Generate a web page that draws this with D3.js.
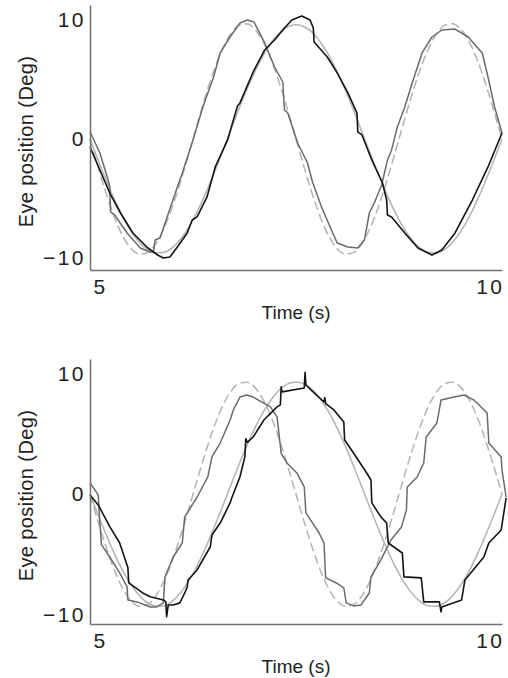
<!DOCTYPE html>
<html lang="en">
<head>
    <meta charset="UTF-8">
    <title>Eye position vs time</title>
    <script src="https://d3js.org/d3.v7.min.js"></script>
    <style>
        body { margin: 0; background: #fff; }
        svg { display: block; font-family: "Liberation Sans", Arial, sans-serif; }
        .tick text { font-size: 21px; fill: #222; letter-spacing: 2.5px; }
        .title { font-size: 19px; fill: #222; }
    </style>
</head>
<body>
<div id="chart"></div>
<script>
// sample times for the two target sinusoids (s)
const timeGrid = [5.0, 5.1, 5.2, 5.3, 5.4, 5.5, 5.6, 5.7, 5.8, 5.9,
    6.0, 6.1, 6.2, 6.3, 6.4, 6.5, 6.6, 6.7, 6.8, 6.9,
    7.0, 7.1, 7.2, 7.3, 7.4, 7.5, 7.6, 7.7, 7.8, 7.9,
    8.0, 8.1, 8.2, 8.3, 8.4, 8.5, 8.6, 8.7, 8.8, 8.9,
    9.0, 9.1, 9.2, 9.3, 9.4, 9.5, 9.6, 9.7, 9.8, 9.9, 10.0];

const xTicks = [5, 10];
const yTicks = [-10, 0, 10];

// top panel: slow target (solid), fast target (dashed)
const topTargetSlow = [0, -1.80, -3.53, -5.14, -6.57, -7.77, -8.69, -9.30, -9.58, -9.52,
    -9.13, -8.41, -7.40, -6.12, -4.63, -2.97, -1.20, 0.60, 2.39, 4.09,
    5.64, 7.00, 8.11, 8.93, 9.43, 9.60, 9.43, 8.93, 8.11, 7.00,
    5.64, 4.09, 2.39, 0.60, -1.20, -2.97, -4.63, -6.12, -7.40, -8.41,
    -9.13, -9.52, -9.58, -9.30, -8.69, -7.77, -6.57, -5.14, -3.53, -1.80, 0];
const topTargetFast = [0, -2.41, -4.67, -6.64, -8.19, -9.23, -9.68, -9.53, -8.78, -7.47,
    -5.70, -3.57, -1.22, 1.22, 3.57, 5.70, 7.47, 8.78, 9.53, 9.68,
    9.23, 8.19, 6.64, 4.67, 2.41, 0, -2.41, -4.67, -6.64, -8.19,
    -9.23, -9.68, -9.53, -8.78, -7.47, -5.70, -3.57, -1.22, 1.22, 3.57,
    5.70, 7.47, 8.78, 9.53, 9.68, 9.23, 8.19, 6.64, 4.67, 2.41, 0];

// top panel eye traces [time, deg]
const topEyeSlow = [[5.00,-0.67],[5.12,-2.61],[5.24,-4.54],[5.37,-6.22],[5.52,-7.90],[5.69,-9.08],
    [5.82,-9.75],[5.89,-10.0],[5.97,-9.92],[6.06,-9.08],[6.18,-7.90],[6.24,-6.81],[6.30,-6.55],
    [6.42,-4.87],[6.52,-2.35],[6.67,-0.08],[6.74,1.60],[6.79,2.77],[6.82,3.03],[6.98,5.63],
    [7.12,7.48],[7.24,8.32],[7.36,9.33],[7.45,10.0],[7.57,10.34],[7.67,10.0],[7.71,9.33],
    [7.72,8.15],[7.88,6.89],[8.00,5.55],[8.13,3.87],[8.24,2.18],[8.25,0.59],[8.30,0.34],
    [8.42,-1.76],[8.55,-3.70],[8.60,-5.13],[8.61,-6.39],[8.66,-6.55],[8.82,-7.90],[8.98,-9.16],
    [9.15,-9.75],[9.27,-9.33],[9.43,-7.90],[9.64,-5.13],[9.83,-2.35],[10.0,0.50]];
const topEyeFast = [[5.00,0.61],[5.12,-1.18],[5.22,-3.45],[5.24,-4.03],[5.25,-6.13],[5.30,-6.39],
    [5.45,-7.90],[5.61,-9.16],[5.73,-9.50],[5.77,-9.50],[5.79,-8.49],[5.85,-8.32],[6.06,-4.03],
    [6.12,-2.86],[6.25,-0.08],[6.37,2.69],[6.50,5.21],[6.58,7.23],[6.70,8.57],[6.82,9.75],
    [6.91,10.0],[6.99,9.83],[7.12,8.07],[7.24,6.05],[7.34,4.79],[7.36,2.44],[7.40,2.18],
    [7.52,-0.34],[7.64,-2.02],[7.70,-3.61],[7.81,-5.71],[7.93,-7.65],[8.00,-8.74],[8.13,-9.08],
    [8.25,-9.16],[8.33,-8.49],[8.39,-6.22],[8.45,-5.38],[8.54,-3.87],[8.61,-1.76],[8.66,-0.92],
    [8.73,1.01],[8.82,2.69],[8.91,4.71],[9.03,7.23],[9.15,8.57],[9.27,9.16],[9.43,9.24],
    [9.59,8.57],[9.76,7.23],[9.83,5.21],[9.91,2.69],[10.0,0.50]];

// bottom panel targets
const bottomTargetSlow = [0, -1.74, -3.42, -4.98, -6.37, -7.52, -8.41, -9.01, -9.28, -9.23,
    -8.85, -8.15, -7.17, -5.93, -4.48, -2.87, -1.17, 0.58, 2.31, 3.96,
    5.47, 6.78, 7.85, 8.65, 9.14, 9.30, 9.14, 8.65, 7.85, 6.78,
    5.47, 3.96, 2.31, 0.58, -1.17, -2.87, -4.48, -5.93, -7.17, -8.15,
    -8.85, -9.23, -9.28, -9.01, -8.41, -7.52, -6.37, -4.98, -3.42, -1.74, 0];
const bottomTargetFast = [0, -2.31, -4.48, -6.37, -7.85, -8.85, -9.28, -9.14, -8.41, -7.17,
    -5.47, -3.42, -1.17, 1.17, 3.42, 5.47, 7.17, 8.41, 9.14, 9.28,
    8.85, 7.85, 6.37, 4.48, 2.31, 0, -2.31, -4.48, -6.37, -7.85,
    -8.85, -9.28, -9.14, -8.41, -7.17, -5.47, -3.42, -1.17, 1.17, 3.42,
    5.47, 7.17, 8.41, 9.14, 9.28, 8.85, 7.85, 6.37, 4.48, 2.31, 0];

// bottom panel eye traces
const bottomEyeSlow = [[5.00,-0.06],[5.10,-0.89],[5.24,-2.69],[5.36,-4.04],[5.46,-6.10],[5.47,-7.35],
    [5.64,-8.18],[5.73,-8.49],[5.89,-8.76],[5.92,-8.90],[5.93,-10.14],[5.95,-9.17],[6.01,-9.17],
    [6.09,-9.00],[6.15,-8.18],[6.18,-7.68],[6.19,-7.10],[6.30,-6.27],[6.46,-4.35],[6.48,-3.38],
    [6.58,-2.39],[6.70,-0.72],[6.72,-0.31],[6.82,1.45],[6.88,3.11],[6.89,4.60],[6.91,4.30],
    [6.98,4.74],[7.11,6.15],[7.27,7.23],[7.31,7.40],[7.32,8.89],[7.33,8.48],[7.60,8.80],
    [7.61,10.1],[7.62,9.05],[7.72,8.39],[7.84,7.64],[7.85,8.00],[7.86,7.50],[7.96,6.98],
    [8.08,5.98],[8.09,4.49],[8.20,3.39],[8.36,1.74],[8.41,1.18],[8.42,-0.72],[8.53,-1.88],
    [8.60,-2.38],[8.62,-4.04],[8.79,-4.87],[8.81,-6.85],[9.02,-6.93],[9.05,-8.92],[9.24,-8.92],
    [9.26,-9.75],[9.27,-9.34],[9.51,-8.76],[9.55,-7.10],[9.78,-5.20],[9.84,-4.04],[9.99,-2.96],
    [10.05,-0.31]];
const bottomEyeFast = [[5.00,0.93],[5.10,-0.06],[5.12,-2.38],[5.14,-4.20],[5.24,-5.20],[5.36,-6.52],
    [5.45,-7.68],[5.46,-8.76],[5.57,-8.92],[5.73,-9.34],[5.81,-9.34],[5.89,-9.00],[5.91,-6.85],
    [6.01,-5.20],[6.12,-4.04],[6.15,-1.88],[6.30,-0.23],[6.43,1.43],[6.48,3.09],[6.58,4.24],
    [6.70,6.15],[6.74,6.98],[6.82,8.05],[6.90,8.22],[6.98,8.05],[7.19,7.23],[7.27,6.40],
    [7.32,3.39],[7.39,2.59],[7.51,1.76],[7.60,0.60],[7.62,-1.55],[7.70,-2.38],[7.78,-3.21],
    [7.84,-4.04],[7.86,-6.93],[7.99,-7.35],[8.08,-7.76],[8.11,-9.00],[8.20,-9.25],[8.29,-9.17],
    [8.39,-8.18],[8.41,-6.85],[8.53,-5.44],[8.65,-3.81],[8.78,-2.71],[8.84,-1.30],[8.85,0.60],
    [8.97,1.43],[9.05,2.59],[9.08,4.74],[9.21,5.90],[9.26,7.80],[9.42,8.05],[9.54,8.22],
    [9.66,7.80],[9.82,6.73],[9.84,4.24],[9.99,3.09],[10.0,2.01],[10.05,-0.23]];

const width = 508, height = 678;

const panels = [
    {top: 5, bottom: 270, yDomain: [-11.01, 11.26],
     slow: topTargetSlow, fast: topTargetFast, eyeSlow: topEyeSlow, eyeFast: topEyeFast},
    {top: 359, bottom: 624, yDomain: [-10.75, 11.2],
     slow: bottomTargetSlow, fast: bottomTargetFast, eyeSlow: bottomEyeSlow, eyeFast: bottomEyeFast}
];

const svg = d3.select("#chart")
  .append("svg")
    .attr("width", width)
    .attr("height", height);

const x = d3.scaleLinear()
    .domain([5, 10])
    .range([90, 502]);

panels.forEach(function(p) {
    const g = svg.append("g");

    const y = d3.scaleLinear()
        .domain(p.yDomain)
        .range([p.bottom, p.top]);

    const targetLine = d3.line()
        .x((d, i) => x(timeGrid[i]))
        .y(d => y(d))
        .curve(d3.curveMonotoneX);

    const eyeLine = d3.line()
        .x(d => x(d[0]))
        .y(d => y(d[1]));

    // targets
    g.append("path")
        .datum(p.slow)
        .attr("d", targetLine)
        .attr("fill", "none")
        .attr("stroke", "#b3b3b3")
        .attr("stroke-width", 1.5);

    g.append("path")
        .datum(p.fast)
        .attr("d", targetLine)
        .attr("fill", "none")
        .attr("stroke", "#b3b3b3")
        .attr("stroke-width", 1.5)
        .attr("stroke-dasharray", "9,4");

    // eye traces
    g.append("path")
        .datum(p.eyeFast)
        .attr("d", eyeLine)
        .attr("fill", "none")
        .attr("stroke", "#6b6b6b")
        .attr("stroke-width", 1.5)
        .attr("stroke-linejoin", "round");

    g.append("path")
        .datum(p.eyeSlow)
        .attr("d", eyeLine)
        .attr("fill", "none")
        .attr("stroke", "#141414")
        .attr("stroke-width", 1.6)
        .attr("stroke-linejoin", "round");

    // y axis
    const yAxis = g.append("g")
        .attr("transform", "translate(90,0)")
        .call(d3.axisLeft(y).tickValues(yTicks).tickSize(0).tickSizeOuter(0).tickPadding(4));
    yAxis.select(".domain").attr("stroke", "#707070").attr("stroke-width", 1.5);
    yAxis.selectAll("text").attr("font-family", null).attr("font-size", null);

    // x axis
    const xAxis = g.append("g")
        .attr("transform", `translate(0,${p.bottom})`)
        .call(d3.axisBottom(x).tickValues(xTicks).tickFormat(d3.format("d"))
            .tickSize(0).tickSizeOuter(0).tickPadding(9));
    xAxis.select(".domain").attr("stroke", "#707070").attr("stroke-width", 1.5);
    xAxis.selectAll("text")
        .attr("font-family", null).attr("font-size", null)
        .attr("text-anchor", d => d === 5 ? "start" : "end")
        .attr("x", d => d === 5 ? 3 : 2);

    // titles
    g.append("text")
        .attr("class", "title")
        .attr("x", 296)
        .attr("y", p.bottom + 49)
        .attr("text-anchor", "middle")
        .text("Time (s)");

    g.append("text")
        .attr("class", "title")
        .attr("transform", `translate(33,${(p.top + p.bottom) / 2 + 4}) rotate(-90)`)
        .attr("text-anchor", "middle")
        .style("font-size", "20px")
        .style("letter-spacing", "0.4px")
        .text("Eye position (Deg)");
});
</script>
</body>
</html>
